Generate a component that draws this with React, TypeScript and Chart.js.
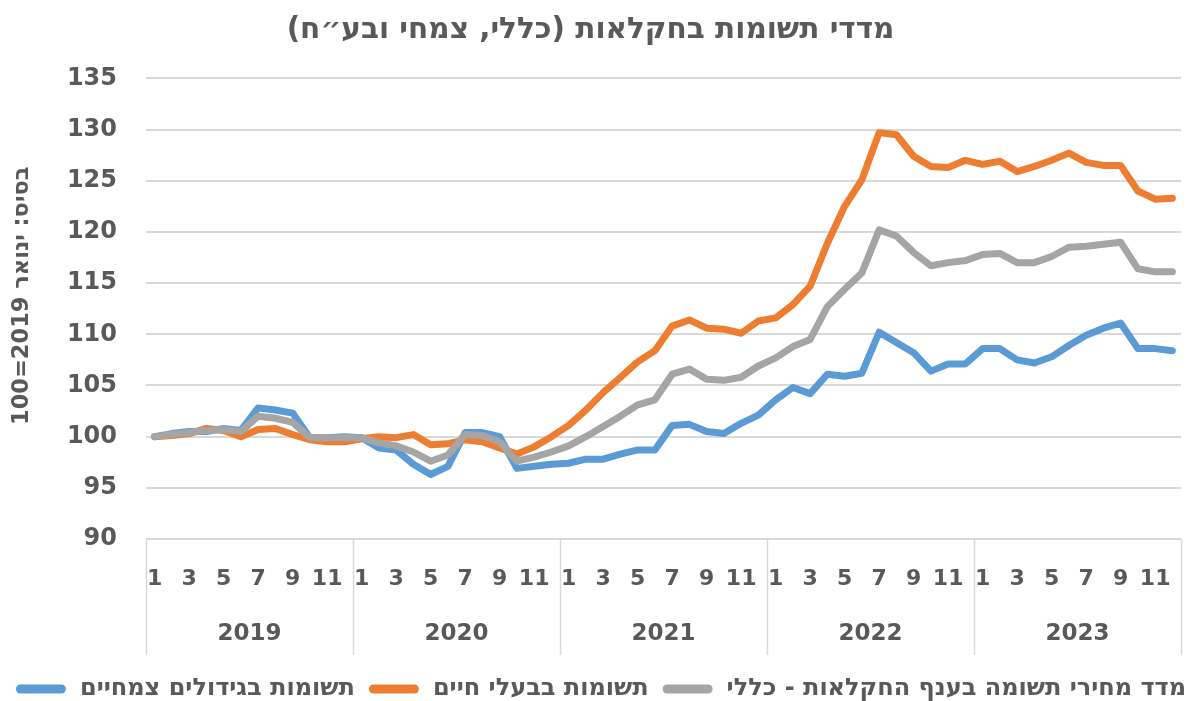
import React, { useEffect, useRef } from "react";
import Chart from "chart.js/auto";

const years = ["2019", "2020", "2021", "2022", "2023"];
const monthsPerYear = 12;
const categories: string[] = [];
years.forEach((y) => {
  for (let m = 1; m <= monthsPerYear; m++) categories.push(`${y}-${m}`);
});

const titleText = "מדדי תשומות בחקלאות (כללי, צמחי ובע״ח)";
const yAxisTitle = "בסיס: ינואר 2019=100";
const seriesNames = [
  "מדד מחירי תשומה בענף החקלאות - כללי",
  "תשומות בבעלי חיים",
  "תשומות בגידולים צמחיים",
];

const generalIndex = [
  100.0, 100.2, 100.4, 100.6, 100.7, 100.5, 102.0, 101.8, 101.4, 99.9, 99.9, 99.9,
  99.9, 99.4, 99.1, 98.5, 97.6, 98.2, 100.2, 100.1, 99.5, 97.6, 98.0, 98.5,
  99.1, 100.0, 101.0, 102.0, 103.1, 103.6, 106.1, 106.6, 105.6, 105.5, 105.8, 106.9,
  107.7, 108.8, 109.5, 112.7, 114.4, 116.0, 120.2, 119.6, 118.0, 116.7, 117.0, 117.2,
  117.8, 117.9, 117.0, 117.0, 117.6, 118.5, 118.6, 118.8, 119.0, 116.4, 116.1, 116.1,
];
const animalsIndex = [
  100.0, 100.1, 100.3, 100.8, 100.6, 100.0, 100.7, 100.8, 100.2, 99.7, 99.5, 99.5,
  99.8, 100.0, 99.9, 100.2, 99.2, 99.3, 99.7, 99.5, 98.9, 98.3, 99.0, 100.0,
  101.1, 102.6, 104.3, 105.8, 107.3, 108.4, 110.8, 111.4, 110.6, 110.5, 110.1, 111.3,
  111.6, 112.9, 114.7, 118.9, 122.5, 125.1, 129.7, 129.5, 127.4, 126.4, 126.3, 127.0,
  126.6, 126.9, 125.9, 126.4, 127.0, 127.7, 126.8, 126.5, 126.5, 124.0, 123.2, 123.3,
];
const plantsIndex = [
  100.0, 100.3, 100.5, 100.5, 100.8, 100.6, 102.8, 102.6, 102.3, 99.9, 99.9, 100.0,
  99.9, 98.9, 98.7, 97.3, 96.3, 97.1, 100.4, 100.4, 100.0, 96.9, 97.1, 97.3,
  97.4, 97.8, 97.8, 98.3, 98.7, 98.7, 101.1, 101.2, 100.5, 100.3, 101.3, 102.1,
  103.6, 104.8, 104.2, 106.1, 105.9, 106.2, 110.2, 109.2, 108.2, 106.4, 107.1, 107.1,
  108.6, 108.6, 107.5, 107.2, 107.8, 108.9, 109.9, 110.6, 111.1, 108.6, 108.6, 108.4,
];

const colors = ["#A5A5A5", "#ED7D31", "#5B9BD5"];
const textColor = "#595959";
const gridColor = "#D9D9D9";
const FONT = "'DejaVu Sans', 'Liberation Sans', sans-serif";

const decorPlugin = {
  id: "decor",
  afterDraw(chart: any) {
    const { ctx } = chart;
    const xs = chart.scales.x;
    const ys = chart.scales.y;
    const area = chart.chartArea;
    const n = categories.length;
    const step = (xs.right - xs.left) / n;
    ctx.save();
    // year separators
    ctx.strokeStyle = gridColor;
    ctx.lineWidth = 1.5;
    for (let k = 0; k <= years.length; k++) {
      const x = Math.round(xs.left + k * monthsPerYear * step) + 0.5;
      ctx.beginPath();
      ctx.moveTo(x, area.bottom);
      ctx.lineTo(x, xs.bottom);
      ctx.stroke();
    }
    // year labels
    ctx.fillStyle = textColor;
    ctx.font = `bold 23px ${FONT}`;
    ctx.textAlign = "center";
    ctx.textBaseline = "middle";
    years.forEach((y, k) => {
      const a = xs.getPixelForValue(k * monthsPerYear + 5);
      const b = xs.getPixelForValue(k * monthsPerYear + 6);
      ctx.fillText(y, (a + b) / 2, xs.bottom - 21);
    });
    // y axis title
    ctx.save();
    ctx.translate(22, (ys.top + ys.bottom) / 2 - 13);
    ctx.rotate(-Math.PI / 2);
    ctx.font = `bold 22.5px ${FONT}`;
    ctx.direction = "rtl";
    ctx.textAlign = "center";
    ctx.textBaseline = "middle";
    ctx.fillText(yAxisTitle, 0, 0);
    ctx.restore();
    // legend (left to right: plants, animals, general)
    const order = [2, 1, 0];
    ctx.font = `bold 24px ${FONT}`;
    ctx.direction = "rtl";
    const sw = 50;
    const gapBox = 14;
    const gapItem = 14;
    const widths = order.map((i) => ctx.measureText(seriesNames[i]).width);
    const total =
      widths.reduce((s, w) => s + w + sw + gapBox, 0) + gapItem * (order.length - 1);
    let x = chart.width / 2 - total / 2;
    const yL = xs.bottom + 34;
    order.forEach((i, j) => {
      ctx.strokeStyle = colors[i];
      ctx.lineWidth = 9;
      ctx.lineCap = "round";
      ctx.beginPath();
      ctx.moveTo(x + 4.5, yL);
      ctx.lineTo(x + sw - 4.5, yL);
      ctx.stroke();
      x += sw + gapBox;
      ctx.fillStyle = textColor;
      ctx.textAlign = "left";
      ctx.textBaseline = "middle";
      ctx.fillText(seriesNames[i], x, yL);
      x += widths[j] + gapItem;
    });
    ctx.restore();
  },
};

export default function App() {
  const ref = useRef<HTMLCanvasElement>(null);
  useEffect(() => {
    document.body.style.margin = "0";
    const canvas = ref.current!;
    const series = [generalIndex, animalsIndex, plantsIndex];
    const chart = new Chart(canvas, {
      type: "line",
      data: {
        labels: categories,
        datasets: series.map((d, i) => ({
          label: seriesNames[i],
          data: d,
          borderColor: colors[i],
          backgroundColor: colors[i],
          borderWidth: 7,
          pointRadius: 0,
          tension: 0,
          borderJoinStyle: "round" as const,
          borderCapStyle: "round" as const,
        })),
      },
      options: {
        responsive: false,
        animation: false,
        devicePixelRatio: 1,
        layout: { padding: { left: 0, right: 21, top: 0, bottom: 46 } },
        plugins: {
          tooltip: { enabled: false },
          legend: { display: false },
          title: {
            display: true,
            text: titleText,
            color: textColor,
            font: { family: FONT, size: 29.5, weight: "bold" },
            padding: { top: 13, bottom: 30 },
          },
        },
        scales: {
          x: {
            type: "category",
            offset: true,
            grid: { display: false, drawTicks: false },
            border: { display: false },
            ticks: {
              autoSkip: false,
              maxRotation: 0,
              minRotation: 0,
              padding: 27,
              color: textColor,
              font: { family: FONT, size: 22, weight: "bold" },
              callback: (_v: any, i: number) => {
                const m = (i % monthsPerYear) + 1;
                return m % 2 === 1 ? String(m) : "";
              },
            },
            afterFit: (s: any) => {
              s.height = 116;
            },
          },
          y: {
            min: 90,
            max: 135,
            grid: { color: gridColor, lineWidth: 2, drawTicks: false },
            border: { display: false },
            ticks: {
              stepSize: 5,
              padding: 29,
              color: textColor,
              font: { family: FONT, size: 24, weight: "bold" },
            },
            afterFit: (s: any) => {
              s.width = 146;
            },
          },
        },
      },
      plugins: [decorPlugin],
    });
    return () => chart.destroy();
  }, []);
  return (
    <div style={{ position: "fixed", left: 0, top: 0, width: 1202, height: 701 }}>
      <canvas ref={ref} width={1202} height={701} dir="rtl" style={{ direction: "rtl" }} />
    </div>
  );
}
